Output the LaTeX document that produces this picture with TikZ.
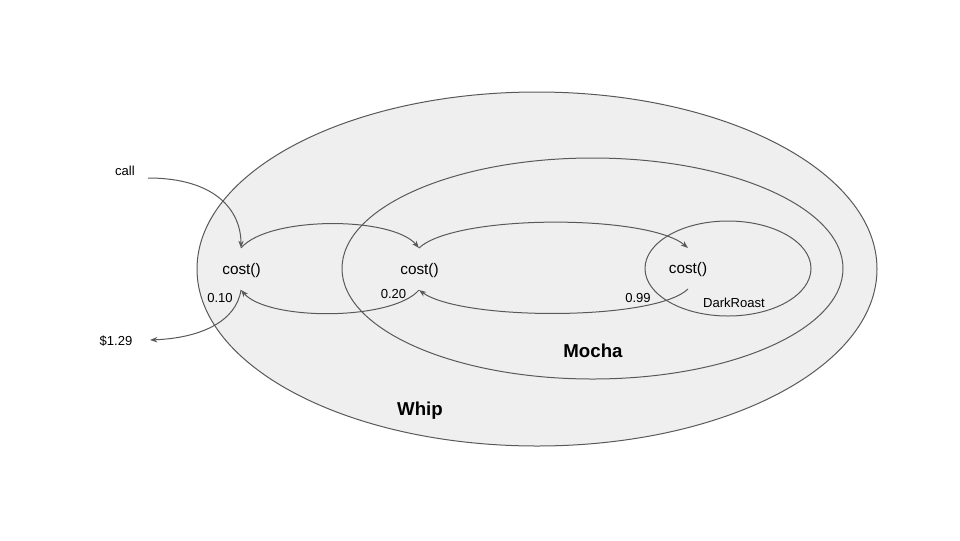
\documentclass[tikz,border=0pt]{standalone}
\usepackage{fontspec}
\setmainfont{Liberation Sans}
\usetikzlibrary{arrows.meta,shapes.geometric}
\definecolor{shellfill}{HTML}{EFEFEF}
\definecolor{lineclr}{HTML}{595959}
\begin{document}
\begin{tikzpicture}[x=0.75pt,y=-0.75pt,
  shell/.style={draw=lineclr,fill=shellfill,ellipse,inner sep=0pt,line width=0.75pt},
  conn/.style={draw=lineclr,line width=0.75pt,-{Stealth[length=5.5pt,width=4pt]}},
  costlbl/.style={font=\fontsize{11.5}{13}\selectfont,inner sep=0pt},
  small/.style={font=\fontsize{9.8}{12}\selectfont,inner sep=0pt},
  bigbold/.style={font=\fontsize{14}{16}\selectfont\bfseries,inner sep=0pt}]
\useasboundingbox (0,0) rectangle (960,540);
\node[shell,minimum width=510pt,minimum height=265.5pt] (whip) at (537,269) {};
\node[shell,minimum width=375.75pt,minimum height=165.75pt] (mocha) at (592.5,268.5) {};
\node[shell,minimum width=124.5pt,minimum height=71.25pt] (dark) at (728,268.5) {};

\node[costlbl] (c1) at (241.5,271) {cost()};
\node[costlbl] (c2) at (419.5,271) {cost()};
\node[costlbl] (c3) at (688,270) {cost()};

\node[small] (call) at (125,171) {call};
\node[small] (price) at (116,341) {\$1.29};
\node[small] (v1) at (220,298) {0.10};
\node[small] (v2) at (393.5,294) {0.20};
\node[small] (v3) at (638,298) {0.99};
\node[small] (dr) at (734,303) {DarkRoast};
\node[bigbold] (mochalbl) at (593,351) {Mocha};
\node[bigbold] (whiplbl) at (420,411) {Whip};

\coordinate (callend) at (148,178);
\coordinate (c1t) at (241,248);
\coordinate (c2t) at (419,248);
\coordinate (c3t) at (688,248);
\coordinate (c1b) at (241,290);
\coordinate (c2b) at (419,290);
\coordinate (c3b) at (688,289);
\coordinate (priceend) at (150,340);

\draw[conn] (callend) .. controls (215,178) and (241,210) .. (c1t);
\draw[conn] (c1t) .. controls (268,216) and (392,216) .. (c2t);
\draw[conn] (c2t) .. controls (455,214) and (648,214) .. (c3t);
\draw[conn] (c3b) .. controls (655,321) and (462,321) .. (c2b);
\draw[conn] (c2b) .. controls (392,321) and (268,321) .. (c1b);
\draw[conn] (c1b) .. controls (236,322) and (200,338) .. (priceend);
\end{tikzpicture}
\end{document}
